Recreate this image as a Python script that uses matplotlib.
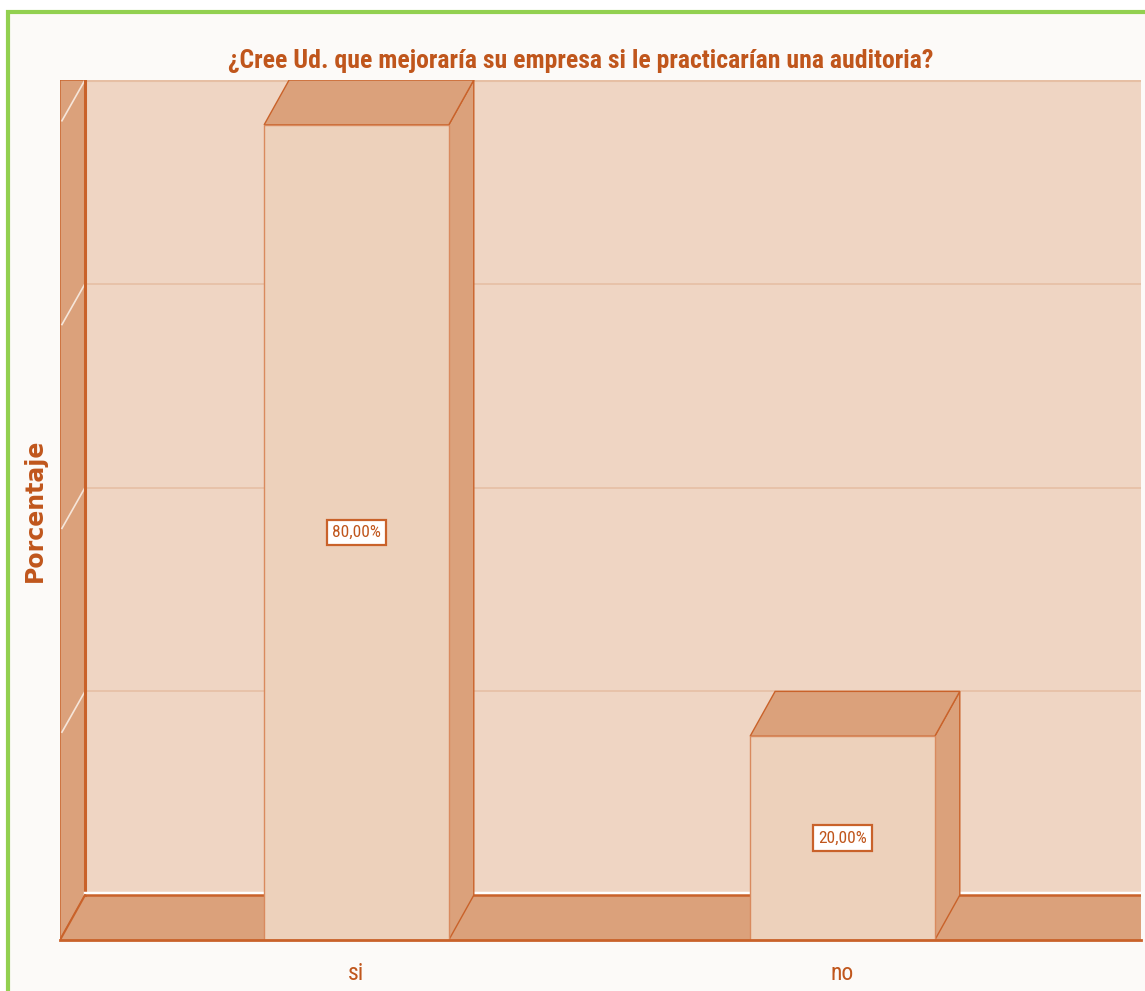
import matplotlib
matplotlib.use('Agg')
import matplotlib.pyplot as plt
from matplotlib.patches import Polygon, Rectangle

# data
categories = ['si', 'no']
percentages = [80.0, 20.0]
value_labels = ['80,00%', '20,00%']
grid_values = [20, 40, 60]
axis_max = 80
title = '¿Cree Ud. que mejoraría su empresa si le practicarían una auditoria?'
ylabel = 'Porcentaje'

# colours
wall = '#EFD5C3'
front = '#EDD1BB'
dark = '#DBA17B'
edge = '#C9622A'
text_col = '#C0561C'
grid_col = '#E6BFA4'

narrow = ['Roboto Condensed', 'Sofia Sans Condensed', 'DejaVu Sans']

fig = plt.figure(figsize=(11.45, 9.91), dpi=100)
fig.patch.set_facecolor('white')

# panel background with green frame
W, H = 1145, 991
frame = Rectangle((8 / W, -0.05), 1.1, 1 - 12 / H + 0.05, transform=fig.transFigure,
                  facecolor='#FCFAF8', edgecolor='#92D050', linewidth=3, zorder=-5)
fig.patches.append(frame)

# axes on the front plane of the 3D box
ax = fig.add_axes([60 / W, 51 / H, 1081 / W, 860 / H])
ax.set_zorder(2)
ax.patch.set_alpha(0)
x0 = -0.61
x1 = x0 + 1081 / 486
dx, dy = 25 / 486, 4.4
ax.set_xlim(x0, x1)
ax.set_ylim(0, axis_max + dy)
for s in ax.spines.values():
    s.set_visible(False)

top = axis_max + dy

# back wall
ax.add_patch(Polygon([(x0 + dx, dy), (x1 + dx, dy), (x1 + dx, top), (x0 + dx, top)],
                     facecolor=wall, edgecolor='none', zorder=1))
ax.plot([x0 + dx, x1 + dx], [top - 0.1, top - 0.1], color=grid_col, lw=1.5, zorder=2)
for g in grid_values:
    ax.plot([x0 + dx, x1 + dx], [g + dy, g + dy], color=grid_col, lw=1.2, zorder=2)

# left wall
ax.add_patch(Polygon([(x0, 0), (x0 + dx, dy), (x0 + dx, top), (x0, top)],
                     facecolor=dark, edgecolor=edge, lw=1, zorder=3))
for g in grid_values + [axis_max]:
    ax.plot([x0 + dx, x0 + 0.004], [g + dy, g + 0.4], color='#F6E6DA', lw=1.2, zorder=4)
ax.plot([x0 + dx, x0 + dx], [dy, top], color=edge, lw=2.2, zorder=4)

# floor
ax.add_patch(Polygon([(x0, 0), (x1, 0), (x1 + dx, dy), (x0 + dx, dy)],
                     facecolor=dark, edgecolor='none', zorder=3))
ax.plot([x0 + dx, x1 + dx], [dy + 0.25, dy + 0.25], color='white', lw=2.5, zorder=4)
ax.plot([x0 + dx, x1 + dx], [dy, dy], color=edge, lw=1.8, zorder=4)
ax.plot([x0, x0 + dx], [0, dy], color=edge, lw=1.5, zorder=4)
ax.plot([x0, x1], [0, 0], color=edge, lw=2, zorder=6, clip_on=False)

# bars
width = 0.38
for i, (v, lab) in enumerate(zip(percentages, value_labels)):
    xl, xr = i - width / 2, i + width / 2
    ax.add_patch(Polygon([(xr, 0), (xr + dx, dy), (xr + dx, v + dy), (xr, v)],
                         facecolor=dark, edgecolor=edge, lw=1, zorder=5))
    ax.add_patch(Polygon([(xl, v), (xr, v), (xr + dx, v + dy), (xl + dx, v + dy)],
                         facecolor=dark, edgecolor=edge, lw=1, zorder=5))
    ax.add_patch(Rectangle((xl, 0), width, v, facecolor=front, edgecolor='#D98A5E', lw=1, zorder=5))
    ax.text(i, v / 2, lab, ha='center', va='center', color=text_col, fontsize=12.5,
            family=narrow, zorder=7,
            bbox=dict(boxstyle='square,pad=0.3', facecolor='white', edgecolor=edge, lw=1.6))

ax.set_xticks(range(len(categories)))
ax.set_xticklabels(categories, family=narrow, fontsize=17, color=text_col)
ax.tick_params(axis='x', length=0, pad=16)
ax.set_yticks([])

ax.set_ylabel(ylabel, fontsize=17, fontweight='bold', color=text_col, family='DejaVu Sans')
ax.yaxis.set_label_coords(-0.012, 0.5)

fig.text(581 / W, 1 - 61 / H, title, ha='center', va='center', fontsize=18.5,
         fontweight='bold', color=text_col, family=narrow)

fig.savefig('out.png', dpi=100, facecolor='white')
